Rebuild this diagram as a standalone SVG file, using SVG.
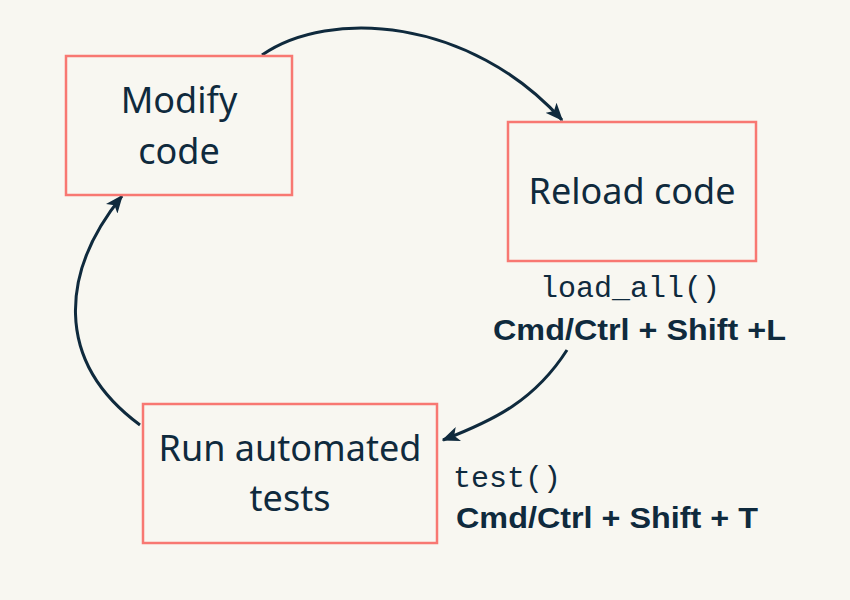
<svg xmlns="http://www.w3.org/2000/svg" width="850" height="600" viewBox="0 0 850 600">
<style>
.box{fill:none;stroke:#f87872;stroke-width:2.5}
.lbl{font-family:"Noto Sans",Lato,sans-serif;font-size:36px;fill:#0f2a3d;text-anchor:middle}
.mono{font-family:"Liberation Mono","DejaVu Sans Mono",monospace;font-size:30px;fill:#0f2a3d}
.bold{font-family:"Liberation Sans",Arial,sans-serif;font-size:30px;font-weight:bold;fill:#0f2a3d}
.edge{fill:none;stroke:#0f2a3d;stroke-width:3}
</style>
<defs>
<marker id="ah" viewBox="0 0 12 10" refX="11" refY="5" markerWidth="6" markerHeight="5" orient="auto" markerUnits="strokeWidth">
<path d="M0,0 L12,5 L0,10 L3,5 Z" fill="#0f2a3d"/>
</marker>
</defs>
<rect width="850" height="600" fill="#f8f7f1"/>
<g id="connectors">
<path class="edge" d="M262,55 C330,8 470,18 562,120" marker-end="url(#ah)"/>
<path class="edge" d="M567,350 C535,400 495,420 443,440" marker-end="url(#ah)"/>
<path class="edge" d="M140,425 C52,360 62,270 122,196" marker-end="url(#ah)"/>
</g>
<g id="modify">
<rect class="box" x="66" y="56" width="226" height="139"/>
<text class="lbl" x="179" y="113">Modify</text>
<text class="lbl" x="179" y="164">code</text>
</g>
<g id="reload">
<rect class="box" x="508" y="122" width="248" height="139"/>
<text class="lbl" x="632" y="204">Reload code</text>
</g>
<g id="tests">
<rect class="box" x="143" y="404" width="294" height="139"/>
<text class="lbl" x="290" y="461">Run automated</text>
<text class="lbl" x="290" y="511">tests</text>
</g>
<g id="labels">
<text class="mono" x="540" y="297">load_all()</text>
<text class="bold" x="493" y="340" textLength="293" lengthAdjust="spacingAndGlyphs">Cmd/Ctrl + Shift +L</text>
<text class="mono" x="453" y="487">test()</text>
<text class="bold" x="456" y="528" textLength="302" lengthAdjust="spacingAndGlyphs">Cmd/Ctrl + Shift + T</text>
</g>
</svg>
